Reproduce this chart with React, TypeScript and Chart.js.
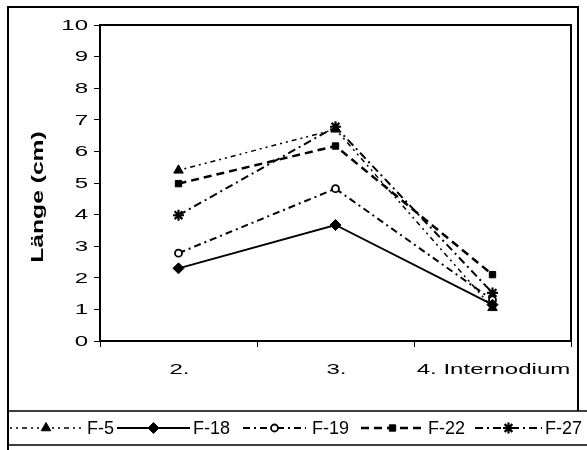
import React, { useEffect, useRef } from "react";
import { Chart, registerables } from "chart.js";
import { drawPoint } from "chart.js/helpers";

Chart.register(...registerables);

const categories = ["2.", "3.", "4. Internodium"];
const seriesNames = ["F-5", "F-18", "F-19", "F-22", "F-27"];
const f5 = [5.4, 6.7, 1.05];
const f18 = [2.3, 3.67, 1.15];
const f19 = [2.78, 4.82, 1.3];
const f22 = [4.98, 6.17, 2.1];
const f27 = [3.98, 6.78, 1.52];
const yTicks = [0, 1, 2, 3, 4, 5, 6, 7, 8, 9, 10];
const yTitle = "Länge (cm)";

const FONT = "'Liberation Sans', Arial, sans-serif";

// legend layout (line start, line end, text x)
const legendLayout = [
  [10, 82, 87],
  [117, 190, 193],
  [243, 306, 312],
  [361, 424, 428],
  [475, 542, 545],
];

function stretchedText(ctx: any, text: string, x: number, y: number, font: string, sx: number, align: string, rot: number) {
  ctx.save();
  ctx.translate(x, y);
  ctx.rotate(rot);
  ctx.scale(sx, 1);
  ctx.font = font;
  ctx.fillStyle = "#000";
  ctx.textAlign = align;
  ctx.textBaseline = "middle";
  ctx.fillText(text, 0, 0);
  ctx.restore();
}

const frame = {
  id: "frame",
  beforeDraw(chart: any) {
    const ctx = chart.ctx;
    ctx.save();
    ctx.fillStyle = "#fff";
    ctx.fillRect(0, 0, chart.width, chart.height);
    ctx.strokeStyle = "#000";
    ctx.lineWidth = 2;
    ctx.beginPath();
    ctx.moveTo(8, 460);
    ctx.lineTo(8, 7);
    ctx.lineTo(578, 7);
    ctx.lineTo(578, 411);
    ctx.stroke();
    ctx.restore();
  },
  afterDraw(chart: any) {
    const ctx = chart.ctx;
    const a = chart.chartArea;
    ctx.save();
    ctx.strokeStyle = "#000";
    ctx.lineWidth = 2;
    ctx.beginPath();
    ctx.moveTo(a.left, a.top);
    ctx.lineTo(a.right, a.top);
    ctx.lineTo(a.right, a.bottom);
    ctx.stroke();

    // tick labels
    const xs = chart.scales.x;
    const ys = chart.scales.y;
    const tickFont = "15.5px " + FONT;
    yTicks.forEach((v) => {
      stretchedText(ctx, String(v), 88, ys.getPixelForValue(v) + 0.5, tickFont, 1.55, "right", 0);
    });
    categories.forEach((c, i) => {
      stretchedText(ctx, c, xs.getPixelForValue(i) + 1, 370, tickFont, 1.55, "center", 0);
    });
    stretchedText(ctx, yTitle, 38, 197, "bold 17px " + FONT, 1.45, "center", -Math.PI / 2);

    // legend box
    ctx.fillStyle = "#fff";
    ctx.fillRect(9, 411, 578, 34);
    ctx.lineWidth = 1.5;
    ctx.beginPath();
    ctx.moveTo(8, 411);
    ctx.lineTo(587, 411);
    ctx.moveTo(8, 445);
    ctx.lineTo(587, 445);
    ctx.stroke();
    ctx.lineWidth = 2;
    ctx.beginPath();
    ctx.moveTo(8, 405);
    ctx.lineTo(8, 450);
    ctx.stroke();
    const cy = 428;
    chart.data.datasets.forEach((ds: any, i: number) => {
      const [x0, x1, tx] = legendLayout[i];
      ctx.save();
      ctx.strokeStyle = "#000";
      ctx.lineWidth = ds.borderWidth;
      ctx.setLineDash(ds.borderDash || []);
      ctx.beginPath();
      ctx.moveTo(x0, cy);
      ctx.lineTo(x1, cy);
      ctx.stroke();
      ctx.restore();
      ctx.save();
      ctx.fillStyle = ds.pointBackgroundColor;
      ctx.strokeStyle = "#000";
      ctx.lineWidth = ds.pointBorderWidth;
      ctx.setLineDash([]);
      drawPoint(ctx, { pointStyle: ds.pointStyle, rotation: 0, borderWidth: ds.pointBorderWidth, radius: ds.pointRadius }, (x0 + x1) / 2, cy);
      ctx.restore();
      ctx.fillStyle = "#000";
      ctx.font = "18px " + FONT;
      ctx.textBaseline = "middle";
      ctx.textAlign = "left";
      ctx.fillText(ds.label, tx, cy + 1);
    });
    ctx.restore();
  },
};

export default function App() {
  const ref = useRef<HTMLCanvasElement>(null);
  useEffect(() => {
    const mk = (label: string, data: number[], style: any, dash: number[], width: number, bg: string, r: number, pbw: number) => ({
      label,
      data,
      borderColor: "#000",
      borderWidth: width,
      borderDash: dash,
      pointStyle: style,
      pointRadius: r,
      pointBackgroundColor: bg,
      pointBorderColor: "#000",
      pointBorderWidth: pbw,
      fill: false,
      tension: 0,
    });
    const chart = new Chart(ref.current!, {
      type: "line",
      data: {
        labels: categories,
        datasets: [
          mk(seriesNames[0], f5, "triangle", [2, 4, 2, 4, 5, 4], 1.5, "#000", 5.5, 1),
          mk(seriesNames[1], f18, "rectRot", [], 1.8, "#000", 5.5, 1),
          mk(seriesNames[2], f19, "circle", [7, 4, 2, 4], 2, "#fff", 3.5, 1.8),
          mk(seriesNames[3], f22, "rect", [8, 5], 2.5, "#000", 4.5, 1),
          mk(seriesNames[4], f27, "star", [8, 4, 2, 4], 2, "#000", 5.5, 2.2),
        ],
      },
      plugins: [frame],
      options: {
        animation: false,
        responsive: false,
        events: [],
        layout: { padding: { top: 25, right: 16, left: 0, bottom: 59 } },
        plugins: { legend: { display: false }, tooltip: { enabled: false } },
        scales: {
          x: {
            offset: true,
            grid: { display: true, drawOnChartArea: false, drawTicks: true, tickLength: 6, color: "#000", lineWidth: 1, offset: true },
            border: { display: true, color: "#000", width: 2 },
            ticks: { display: false, autoSkip: false },
            afterFit: (s: any) => { s.height = 50; },
          },
          y: {
            min: 0,
            max: 10,
            afterBuildTicks: (s: any) => { s.ticks = yTicks.map((v) => ({ value: v })); },
            grid: { display: true, drawOnChartArea: false, drawTicks: true, tickLength: 6, color: "#000", lineWidth: 1 },
            border: { display: true, color: "#000", width: 2 },
            ticks: { display: false },
            afterFit: (s: any) => { s.width = 100; },
          },
        },
      },
    } as any);
    return () => chart.destroy();
  }, []);
  return (
    <div style={{ position: "absolute", left: 0, top: 0, width: 587, height: 450 }}>
      <canvas ref={ref} width={587} height={450} style={{ width: 587, height: 450, display: "block" }} />
    </div>
  );
}
